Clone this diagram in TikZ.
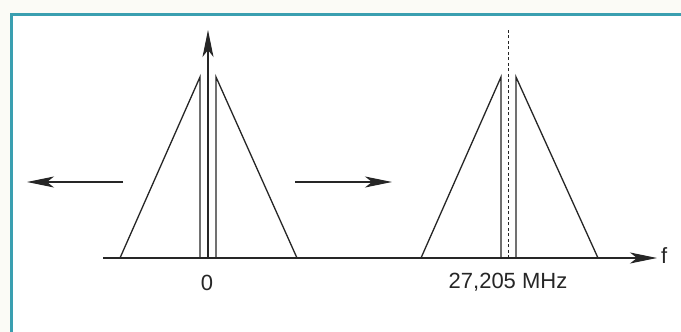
\documentclass[tikz,border=0pt]{standalone}
\usepackage{fontspec}
\setmainfont{Liberation Sans}
\usetikzlibrary{arrows.meta}
\definecolor{framecol}{HTML}{3A9FB0}
\definecolor{paper}{HTML}{FBFBF6}
\begin{document}
\begin{tikzpicture}[x=1pt,y=-1pt,
  ln/.style={line width=1.3pt, black!85},
  arr/.style={ln, -{Stealth[length=27pt,width=11pt,inset=7pt]}},
  lbl/.style={font=\fontsize{22}{26}\selectfont, inner sep=0pt, text=black!85}]
\fill[paper] (0,0) rectangle (681,332);
\useasboundingbox (0,0) rectangle (681,332);
\fill[white] (11,14) rectangle (690,340);
\draw[framecol, line width=3pt] (11,340) -- (11,14) -- (690,14);
% axis
\coordinate (a0) at (103,258);
\coordinate (a1) at (657,258);
\draw[arr] (a0) -- (a1);
\node[lbl, anchor=west] (f) at (661,256) {f};
% left spectrum
\coordinate (L1) at (120,258); \coordinate (L2) at (200,77); \coordinate (L3) at (200,258);
\coordinate (R1) at (297,258); \coordinate (R2) at (216,77); \coordinate (R3) at (216,258);
\draw[ln] (L1) -- (L2) -- (L3);
\draw[ln] (R1) -- (R2) -- (R3);
\coordinate (C0) at (208,258); \coordinate (C1) at (208,30);
\draw[arr] (C0) -- (C1);
% right spectrum
\coordinate (P1) at (421,258); \coordinate (P2) at (501,77); \coordinate (P3) at (501,258);
\coordinate (Q1) at (598,258); \coordinate (Q2) at (516,77); \coordinate (Q3) at (516,258);
\draw[ln] (P1) -- (P2) -- (P3);
\draw[ln] (Q1) -- (Q2) -- (Q3);
\coordinate (D0) at (508,258); \coordinate (D1) at (508,28);
\draw[ln, line width=0.9pt, dash pattern=on 3pt off 2.5pt] (D0) -- (D1);
% shift arrows
\coordinate (la0) at (123,182); \coordinate (la1) at (27,182);
\coordinate (ra0) at (295,182); \coordinate (ra1) at (392,182);
\draw[arr] (la0) -- (la1);
\draw[arr] (ra0) -- (ra1);
% labels
\node[lbl] (zero) at (207,283) {0};
\node[lbl] (freq) at (508,282) {27,205 MHz};
\end{tikzpicture}
\end{document}
